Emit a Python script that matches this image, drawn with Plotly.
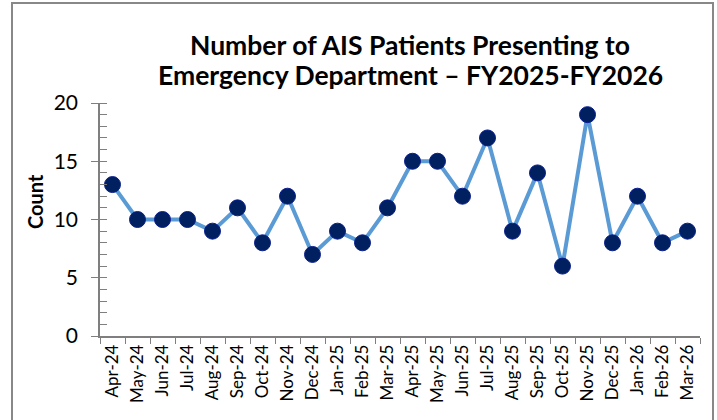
import plotly.graph_objects as go

months = ["Apr-24","May-24","Jun-24","Jul-24","Aug-24","Sep-24","Oct-24","Nov-24","Dec-24",
          "Jan-25","Feb-25","Mar-25","Apr-25","May-25","Jun-25","Jul-25","Aug-25","Sep-25",
          "Oct-25","Nov-25","Dec-25","Jan-26","Feb-26","Mar-26"]
counts = [13,10,10,10,9,11,8,12,7,9,8,11,15,15,12,17,9,14,6,19,8,12,8,9]
y_ticks = [0,5,10,15,20]
title_lines = ["Number of AIS Patients Presenting to", "Emergency Department – FY2025-FY2026"]

W, H = 717, 420
L, R, T, B = 100, 17, 103, 84
pw = W - L - R
ph = H - T - B

def px_x(x):
    return (x - L) / pw

def px_y(y):
    return (H - B - y) / ph

fig = go.Figure(go.Scatter(
    x=months, y=counts, mode="lines+markers",
    line=dict(color="#5B9BD5", width=4),
    marker=dict(color="#002060", size=16, line=dict(color="#0A1F8F", width=1)),
    showlegend=False,
))

fig.add_shape(type="rect", xref="paper", yref="paper",
              x0=px_x(12), x1=px_x(713), y0=px_y(425), y1=px_y(3),
              line=dict(color="#888888", width=2), fillcolor="rgba(0,0,0,0)", layer="below")

for line, ypix in zip(title_lines, [45, 75]):
    fig.add_annotation(text=f"<b>{line}</b>", xref="paper", yref="paper",
                       x=px_x(410), y=px_y(ypix), xanchor="center", yanchor="middle",
                       showarrow=False, font=dict(size=26.5, color="black"))

fig.add_annotation(text="<b>Count</b>", xref="paper", yref="paper",
                   x=px_x(35), y=px_y(202), xanchor="center", yanchor="middle",
                   textangle=-90, showarrow=False, font=dict(size=20, color="black"))

fig.update_layout(
    width=W, height=H,
    margin=dict(l=L, r=R, t=T, b=B),
    paper_bgcolor="white", plot_bgcolor="white",
    font=dict(family="Lato, Carlito, sans-serif", color="black"),
)
fig.update_xaxes(
    type="category", range=[-0.5, 23.5], tickson="boundaries",
    showline=True, linecolor="#7f7f7f", linewidth=1.5,
    ticks="outside", ticklen=6, tickcolor="#7f7f7f",
    tickangle=-90, tickfont=dict(size=17), showgrid=False, zeroline=False,
)
fig.update_yaxes(
    range=[0, 20], tickvals=y_ticks, ticktext=[str(v) for v in y_ticks],
    showline=True, linecolor="#7f7f7f", linewidth=1.5,
    ticks="outside", ticklen=7, tickcolor="#7f7f7f", ticklabelstandoff=9,
    minor=dict(dtick=1, ticks="inside", ticklen=7, tickcolor="#7f7f7f", showgrid=False),
    tickfont=dict(size=21), showgrid=False, zeroline=False,
)
fig.write_html("out.html", config={"displayModeBar": False},
               post_script="document.body.style.margin='0';")
